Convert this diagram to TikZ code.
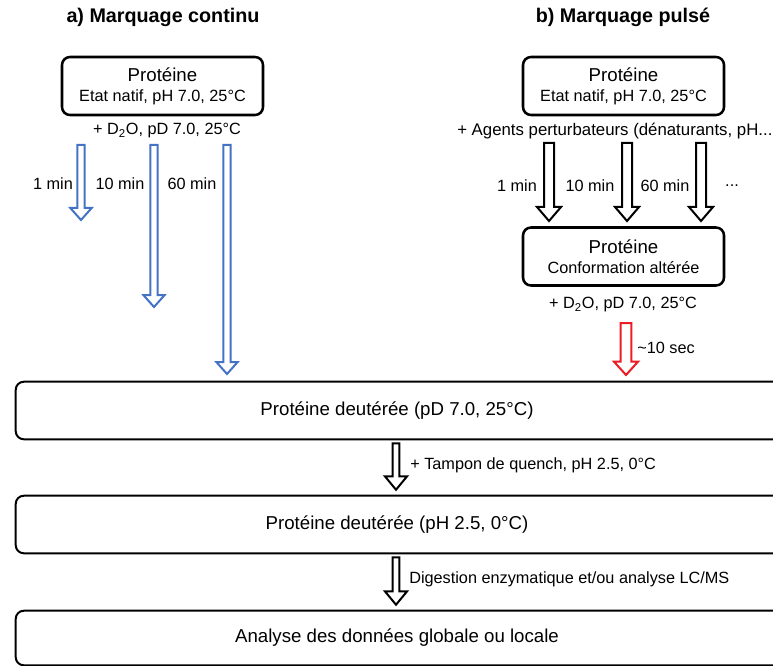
\documentclass[tikz,border=0pt]{standalone}
\usepackage{fontspec}
\setmainfont{Liberation Sans}
\usetikzlibrary{calc}

\definecolor{bleu}{RGB}{68,114,196}
\definecolor{rouge}{RGB}{235,28,36}

\newcommand{\grand}{\fontsize{14}{17}\selectfont}
\newcommand{\petit}{\fontsize{12.2}{15}\selectfont}

% Block arrow: style, from, to, shaft half width, head half width, head length.
\newcommand{\fleche}[6][]{%
  \draw[#1] let \p1=(#2), \p2=(#3) in
    (\x1-#4,\y1) -- (\x1-#4,\y2+#6) -- (\x1-#5,\y2+#6) -- (\x1,\y2)
    -- (\x1+#5,\y2+#6) -- (\x1+#4,\y2+#6) -- (\x1+#4,\y1) -- cycle;}

% Wide box, open on the right (runs past the edge).
\newcommand{\cadre}[1]{%
  \draw[line width=1.5pt, rounded corners=6pt]
    ([xshift=6pt]#1.north east) -- (#1.north west) -- (#1.south west) -- ([xshift=6pt]#1.south east);}

\tikzset{
  titre/.style={font=\bfseries\fontsize{14.8}{17}\selectfont},
  petitebox/.style={draw, line width=1.9pt, rounded corners=6pt, align=center,
    minimum width=150.75pt, minimum height=43.5pt, inner sep=0pt},
  grandebox/.style={minimum width=571.5pt, minimum height=42.75pt, font=\grand},
  etiquette/.style={font=\petit, inner sep=0pt},
  bleue/.style={draw=bleu, line width=1.5pt, line join=miter},
  noire/.style={draw=black, line width=1.5pt, line join=miter},
  rougee/.style={draw=rouge, line width=1.5pt, line join=miter},
}

\begin{document}
\begin{tikzpicture}[x=0.75pt, y=-0.75pt]
  \useasboundingbox (0,0) rectangle (773,666);
  \clip (0,0) rectangle (773,666);

  % Titles.
  \node[titre] (titreA) at (163,17) {a) Marquage continu};
  \node[titre] (titreB) at (623,17) {b) Marquage pulsé};

  % Native protein boxes.
  \node[petitebox] (natifA) at (162.5,86) {\grand Protéine\\[3pt]\petit Etat natif, pH 7.0, 25°C};
  \node[petitebox] (natifB) at (623.5,86) {\grand Protéine\\[3pt]\petit Etat natif, pH 7.0, 25°C};
  \node[petitebox] (altere) at (623.5,256.5) {\grand Protéine\\[3pt]\petit Conformation altérée};

  % Conditions.
  \node[etiquette] (d2oA) at (167,131) {+ D\textsubscript{2}O, pD 7.0, 25°C};
  \node[etiquette, anchor=west, font=\fontsize{12.6}{15}\selectfont] (agents) at (457,131) {+ Agents perturbateurs (dénaturants, pH...};
  \node[etiquette] (d2oB) at (623,305) {+ D\textsubscript{2}O, pD 7.0, 25°C};

  % Continuous labelling times.
  \node[etiquette] (tA1) at (53,184) {1 min};
  \node[etiquette] (tA10) at (120,184) {10 min};
  \node[etiquette] (tA60) at (192,184) {60 min};
  \coordinate (bA1) at (81,145);  \coordinate (bA1e) at (81,220);
  \coordinate (bA2) at (154,145); \coordinate (bA2e) at (154,307);
  \coordinate (bA3) at (227,145); \coordinate (bA3e) at (227,374);
  \fleche[bleue]{bA1}{bA1e}{2.8pt}{8pt}{9pt}
  \fleche[bleue]{bA2}{bA2e}{2.8pt}{8pt}{9pt}
  \fleche[bleue]{bA3}{bA3e}{2.8pt}{8pt}{9pt}

  % Pulsed labelling times.
  \node[etiquette] (tB1) at (517,186) {1 min};
  \node[etiquette] (tB10) at (590,186) {10 min};
  \node[etiquette] (tB60) at (665,186) {60 min};
  \node[etiquette] (tBx) at (732,186) {...};
  \coordinate (nB1) at (549,143); \coordinate (nB1e) at (549,221);
  \coordinate (nB2) at (627,143); \coordinate (nB2e) at (627,221);
  \coordinate (nB3) at (701,143); \coordinate (nB3e) at (701,221);
  \fleche[noire]{nB1}{nB1e}{3.75pt}{9pt}{10.5pt}
  \fleche[noire]{nB2}{nB2e}{3.75pt}{9pt}{10.5pt}
  \fleche[noire]{nB3}{nB3e}{3.75pt}{9pt}{10.5pt}

  % Pulse.
  \coordinate (rB) at (626,323); \coordinate (rBe) at (626,375);
  \fleche[rougee]{rB}{rBe}{4.1pt}{9pt}{10pt}
  \node[etiquette, anchor=west] (sec) at (637,348) {\textasciitilde10 sec};

  % Common steps.
  \node[grandebox] (deut1) at (397,410.5) {Protéine deutérée (pD 7.0, 25°C)};
  \node[grandebox] (deut2) at (397,524.5) {Protéine deutérée (pH 2.5, 0°C)};
  \node[grandebox, minimum height=40.5pt] (analyse) at (397,638) {Analyse des données globale ou locale};
  \cadre{deut1}
  \cadre{deut2}
  \cadre{analyse}

  \coordinate (q1) at ($(deut1.south)+(-1,4)$);
  \coordinate (q1e) at ($(deut2.north)+(-1,-6)$);
  \fleche[noire]{q1}{q1e}{2.6pt}{8.25pt}{10pt}
  \node[etiquette, anchor=west] (quench) at (410,465) {+ Tampon de quench, pH 2.5, 0°C};

  \coordinate (q2) at ($(deut2.south)+(-1,4)$);
  \coordinate (q2e) at ($(analyse.north)+(-1,-6)$);
  \fleche[noire]{q2}{q2e}{2.6pt}{8.25pt}{10pt}
  \node[etiquette, anchor=west] (digest) at (409,579) {Digestion enzymatique et/ou analyse LC/MS};
\end{tikzpicture}
\end{document}
